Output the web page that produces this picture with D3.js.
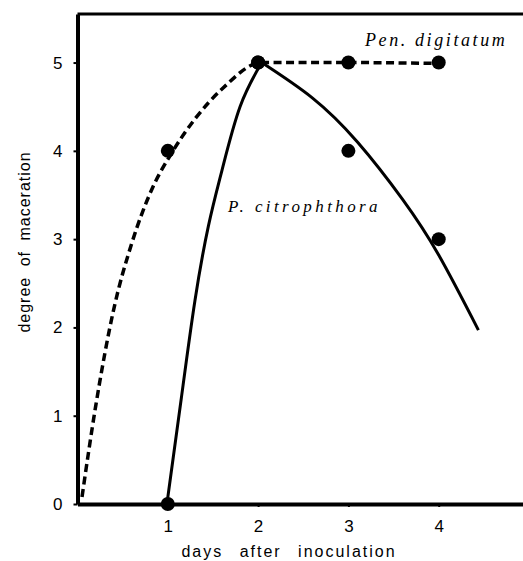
<!DOCTYPE html>
<html><head><meta charset="utf-8">
<script src="https://cdn.jsdelivr.net/npm/d3@7"></script>
<style>
html,body{margin:0;padding:0;background:#fff;overflow:hidden}
svg{display:block}
.tick text{font-family:"Liberation Sans Narrow","Liberation Sans",Arial,sans-serif;font-size:17px;fill:#000}
</style></head>
<body>
<svg id="c" width="523" height="561"></svg>
<script>
// ---- data ----
const xTicks = [1, 2, 3, 4];
const yTicks = [0, 1, 2, 3, 4, 5];
const penDays = [1, 2, 3, 4];
const penValues = [4, 5, 5, 5];
const citDays = [1, 2, 3, 4];
const citValues = [0, 5, 4, 3];
// fitted curves as drawn in the figure
const penCurveX = [0.05, 0.2, 0.4, 0.6, 0.83, 1.04, 1.3, 1.6, 2.04, 3, 4];
const penCurveY = [0.08, 1.1, 2.2, 2.95, 3.58, 3.97, 4.36, 4.7, 5, 5, 4.99];
const citRiseX = [0.99, 1.15, 1.3, 1.45, 1.6, 1.8, 2.04];
const citRiseY = [0, 1.2, 2.3, 3.15, 3.78, 4.5, 5];
const citFallX = [2.04, 2.6, 3.1, 3.6, 4.0, 4.44];
const citFallY = [5, 4.6, 4.1, 3.45, 2.82, 1.97];
const labels = {pen: "Pen. digitatum", cit: "P. citrophthora",
  x: "days after inoculation", y: "degree of maceration"};

const svg = d3.select("#c");
const x = d3.scaleLinear().domain([0, 5]).range([77.5, 529]);
const y = d3.scaleLinear().domain([0, 5.55]).range([504, 14]);

// top frame line
svg.append("line").attr("x1", x(0)).attr("x2", 523).attr("y1", y(5.55)).attr("y2", y(5.55))
  .attr("stroke", "#000").attr("stroke-width", 3);

// axes
const gy = svg.append("g").attr("transform", `translate(${x(0)},0)`)
  .call(d3.axisLeft(y).tickValues(yTicks).tickFormat(d3.format("d")).tickSize(4).tickSizeOuter(0).tickPadding(11));
gy.select(".domain").attr("stroke-width", 4);
gy.selectAll(".tick line").attr("stroke-width", 2);

const gx = svg.append("g").attr("transform", `translate(0,${y(0)})`)
  .call(d3.axisBottom(x).tickValues(xTicks).tickFormat(d3.format("d")).tickSize(3).tickSizeOuter(0).tickPadding(13));
gx.select(".domain").attr("stroke-width", 4);
gx.selectAll(".tick line").attr("stroke-width", 2);

// curves
const zip = (a, b) => a.map((v, i) => [v, b[i]]);
const lineM = d3.line().x(d => x(d[0])).y(d => y(d[1])).curve(d3.curveMonotoneX);
const lineN = d3.line().x(d => x(d[0])).y(d => y(d[1])).curve(d3.curveNatural);
svg.append("path").attr("d", lineM(zip(penCurveX, penCurveY))).attr("fill", "none")
  .attr("stroke", "#000").attr("stroke-width", 3.5).attr("stroke-dasharray", "8,4.5");
svg.append("path").attr("d", lineN(zip(citRiseX, citRiseY))).attr("fill", "none")
  .attr("stroke", "#000").attr("stroke-width", 3);
svg.append("path").attr("d", lineN(zip(citFallX, citFallY))).attr("fill", "none")
  .attr("stroke", "#000").attr("stroke-width", 3);

// markers
svg.append("g").selectAll("circle").data(zip(penDays, penValues)).join("circle")
  .attr("cx", d => x(d[0])).attr("cy", d => y(d[1])).attr("r", 7).attr("fill", "#000");
svg.append("g").selectAll("circle").data(zip(citDays, citValues)).join("circle")
  .attr("cx", d => x(d[0])).attr("cy", d => y(d[1])).attr("r", 7).attr("fill", "#000");

// series labels
svg.append("text").attr("x", 365).attr("y", 46).text(labels.pen)
  .attr("font-family", "'Liberation Serif','DejaVu Serif',serif").attr("font-style", "italic")
  .attr("font-size", 18).attr("letter-spacing", 2.6);
svg.append("text").attr("x", 228).attr("y", 212).text(labels.cit)
  .attr("font-family", "'Liberation Serif','DejaVu Serif',serif").attr("font-style", "italic")
  .attr("font-size", 17).attr("letter-spacing", 3.4);

// axis titles
svg.append("text").attr("x", 289).attr("y", 557).attr("text-anchor", "middle").text(labels.x)
  .attr("font-family", "'Liberation Sans',Arial,sans-serif").attr("font-size", 16)
  .attr("letter-spacing", 2).attr("word-spacing", 10);
svg.append("text").attr("transform", "translate(30,242) rotate(-90)").attr("text-anchor", "middle")
  .text(labels.y).attr("font-family", "'Liberation Sans',Arial,sans-serif").attr("font-size", 16)
  .attr("letter-spacing", 1).attr("word-spacing", 5);
</script>
</body></html>
